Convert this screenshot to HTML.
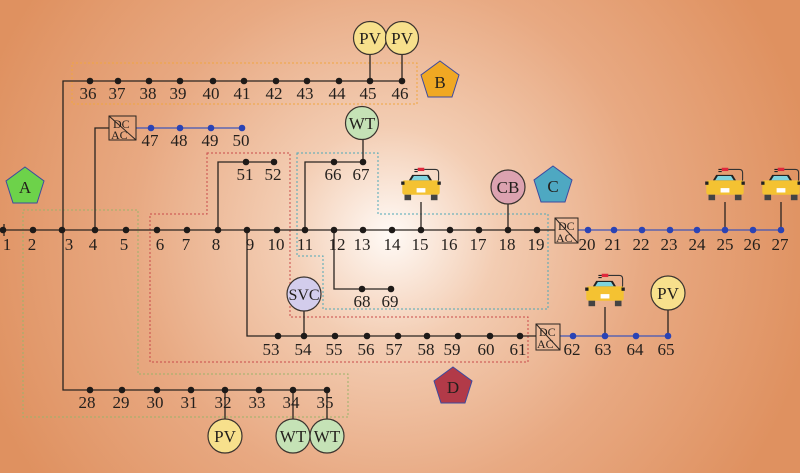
<!DOCTYPE html>
<html><head><meta charset="utf-8"><style>
html,body{margin:0;padding:0}
body{width:800px;height:473px;overflow:hidden}
svg{display:block}
svg text{font-family:"Liberation Serif",serif;font-size:17px;fill:#231f1c}
</style></head><body>
<svg width="800" height="473" viewBox="0 0 800 473" xmlns="http://www.w3.org/2000/svg">
<defs>
<radialGradient id="bg" cx="390" cy="235" r="430" gradientUnits="userSpaceOnUse">
<stop offset="0" stop-color="#fffaf6"/><stop offset="0.25" stop-color="#f3cdb3"/><stop offset="0.6" stop-color="#e8a982"/><stop offset="1" stop-color="#df9160"/></radialGradient>
<symbol id="car" viewBox="0 0 40 40" width="44" height="44">
<path d="M17 4h6" stroke="#e0283c" stroke-width="3"/><path d="M14 4h3M14 6h3" stroke="#222" stroke-width="1"/>
<path d="M23 4h10q3 0 3 3v6q0 2-2 3" fill="none" stroke="#333" stroke-width="1"/>
<path d="M9 14l3-5h15l3 5z" fill="#222"/><path d="M11 14l2.5-4h12l2.5 4z" fill="#7fd3de"/>
<rect x="3" y="14" width="34" height="13" rx="2" fill="#f4c232"/>
<rect x="2" y="15" width="3" height="3" fill="#222"/><rect x="35" y="15" width="3" height="3" fill="#222"/>
<rect x="16" y="21" width="8" height="4" fill="#fff"/>
<rect x="5" y="27" width="6" height="5" fill="#444"/><rect x="29" y="27" width="6" height="5" fill="#444"/>
</symbol>
</defs>
<rect width="800" height="473" fill="url(#bg)"/>

<g fill="none" stroke-width="1" stroke-dasharray="2,2">
<polygon points="23,210 138,210 138,374 348,374 348,417 23,417" stroke="#9bb36a"/>
<rect x="72" y="63" width="345" height="41" stroke="#f0a640"/>
<polygon points="207,153 290,153 290,317 528,317 528,362 150,362 150,214 207,214" stroke="#c94a4a"/>
<polygon points="297,153 378,153 378,214 548,214 548,309 323,309 323,256 297,256" stroke="#4fa8b8"/>
</g>

<g stroke="#2a2420" stroke-width="1.3" fill="none">
<line x1="0" y1="230" x2="555" y2="230"/><line x1="4" y1="224" x2="4" y2="236"/>
<polyline points="63,230 63,81 402,81"/><polyline points="63,230 63,390 327,390"/>
<polyline points="95,230 95,128 109,128"/>
<polyline points="218,230 218,162 274,162"/>
<polyline points="305,230 305,162 363,162 363,140"/>
<polyline points="334,230 334,289 391,289"/>
<polyline points="247,230 247,336 536,336"/>
<line x1="370" y1="81" x2="370" y2="54"/><line x1="402" y1="81" x2="402" y2="54"/>
<line x1="421" y1="230" x2="421" y2="202"/><line x1="508" y1="230" x2="508" y2="204"/>
<line x1="725" y1="230" x2="725" y2="202"/><line x1="781" y1="230" x2="781" y2="202"/>
<line x1="605" y1="336" x2="605" y2="307"/><line x1="668" y1="336" x2="668" y2="310"/>
<line x1="304" y1="336" x2="304" y2="311"/>
<line x1="225" y1="390" x2="225" y2="419"/><line x1="293" y1="390" x2="293" y2="419"/><line x1="327" y1="390" x2="327" y2="419"/>
</g>
<g stroke="#3f55b8" stroke-width="1.3">
<line x1="578" y1="230" x2="781" y2="230"/><line x1="136" y1="128" x2="242" y2="128"/><line x1="560" y1="336" x2="668" y2="336"/>
</g>

<g stroke="#2a2420" stroke-width="1" fill="none">
<rect x="555" y="218" width="23" height="25"/><line x1="555" y1="218" x2="578" y2="243"/>
<rect x="109" y="116" width="27" height="24"/><line x1="109" y1="116" x2="136" y2="140"/>
<rect x="536" y="324" width="24" height="26"/><line x1="536" y1="324" x2="560" y2="350"/>
</g>
<g>
<text x="558" y="230" style="font-size:12px">DC</text><text x="556" y="242" style="font-size:12px">AC</text>
<text x="113" y="128" style="font-size:12px">DC</text><text x="111" y="139" style="font-size:12px">AC</text>
<text x="539" y="336" style="font-size:12px">DC</text><text x="537" y="348" style="font-size:12px">AC</text>
</g>

<g fill="#1e1a18">
<circle cx="3" cy="230" r="3.3"/><circle cx="33" cy="230" r="3.3"/><circle cx="62" cy="230" r="3.3"/><circle cx="95" cy="230" r="3.3"/><circle cx="126" cy="230" r="3.3"/><circle cx="157" cy="230" r="3.3"/><circle cx="187" cy="230" r="3.3"/><circle cx="218" cy="230" r="3.3"/><circle cx="247" cy="230" r="3.3"/><circle cx="277" cy="230" r="3.3"/><circle cx="305" cy="230" r="3.3"/><circle cx="334" cy="230" r="3.3"/><circle cx="363" cy="230" r="3.3"/><circle cx="392" cy="230" r="3.3"/><circle cx="421" cy="230" r="3.3"/><circle cx="450" cy="230" r="3.3"/><circle cx="479" cy="230" r="3.3"/><circle cx="508" cy="230" r="3.3"/><circle cx="537" cy="230" r="3.3"/>
<circle cx="90" cy="81" r="3.3"/><circle cx="118" cy="81" r="3.3"/><circle cx="149" cy="81" r="3.3"/><circle cx="180" cy="81" r="3.3"/><circle cx="213" cy="81" r="3.3"/><circle cx="244" cy="81" r="3.3"/><circle cx="276" cy="81" r="3.3"/><circle cx="307" cy="81" r="3.3"/><circle cx="339" cy="81" r="3.3"/><circle cx="370" cy="81" r="3.3"/><circle cx="402" cy="81" r="3.3"/>
<circle cx="246" cy="162" r="3.3"/><circle cx="274" cy="162" r="3.3"/><circle cx="334" cy="162" r="3.3"/><circle cx="363" cy="162" r="3.3"/>
<circle cx="362" cy="289" r="3.3"/><circle cx="391" cy="289" r="3.3"/>
<circle cx="278" cy="336" r="3.3"/><circle cx="304" cy="336" r="3.3"/><circle cx="335" cy="336" r="3.3"/><circle cx="367" cy="336" r="3.3"/><circle cx="398" cy="336" r="3.3"/><circle cx="427" cy="336" r="3.3"/><circle cx="458" cy="336" r="3.3"/><circle cx="490" cy="336" r="3.3"/><circle cx="520" cy="336" r="3.3"/>
<circle cx="90" cy="390" r="3.3"/><circle cx="122" cy="390" r="3.3"/><circle cx="157" cy="390" r="3.3"/><circle cx="191" cy="390" r="3.3"/><circle cx="225" cy="390" r="3.3"/><circle cx="259" cy="390" r="3.3"/><circle cx="293" cy="390" r="3.3"/><circle cx="327" cy="390" r="3.3"/>
</g>
<g fill="#2a43b5">
<circle cx="588" cy="230" r="3.3"/><circle cx="614" cy="230" r="3.3"/><circle cx="642" cy="230" r="3.3"/><circle cx="670" cy="230" r="3.3"/><circle cx="697" cy="230" r="3.3"/><circle cx="725" cy="230" r="3.3"/><circle cx="753" cy="230" r="3.3"/><circle cx="781" cy="230" r="3.3"/>
<circle cx="151" cy="128" r="3.3"/><circle cx="180" cy="128" r="3.3"/><circle cx="211" cy="128" r="3.3"/><circle cx="242" cy="128" r="3.3"/>
<circle cx="573" cy="336" r="3.3"/><circle cx="605" cy="336" r="3.3"/><circle cx="636" cy="336" r="3.3"/><circle cx="668" cy="336" r="3.3"/>
</g>

<g text-anchor="middle">
<text x="7" y="250">1</text><text x="32" y="250">2</text><text x="69" y="250">3</text><text x="93" y="250">4</text><text x="124" y="250">5</text><text x="160" y="250">6</text><text x="186" y="250">7</text><text x="216" y="250">8</text><text x="250" y="250">9</text><text x="276" y="250">10</text><text x="305" y="250">11</text><text x="337" y="250">12</text><text x="362" y="250">13</text><text x="392" y="250">14</text><text x="420" y="250">15</text><text x="449" y="250">16</text><text x="478" y="250">17</text><text x="507" y="250">18</text><text x="536" y="250">19</text>
<text x="587" y="250">20</text><text x="613" y="250">21</text><text x="641" y="250">22</text><text x="669" y="250">23</text><text x="697" y="250">24</text><text x="725" y="250">25</text><text x="752" y="250">26</text><text x="780" y="250">27</text>
<text x="88" y="99">36</text><text x="117" y="99">37</text><text x="148" y="99">38</text><text x="178" y="99">39</text><text x="211" y="99">40</text><text x="242" y="99">41</text><text x="274" y="99">42</text><text x="305" y="99">43</text><text x="337" y="99">44</text><text x="368" y="99">45</text><text x="400" y="99">46</text>
<text x="150" y="146">47</text><text x="179" y="146">48</text><text x="210" y="146">49</text><text x="241" y="146">50</text>
<text x="245" y="180">51</text><text x="273" y="180">52</text><text x="333" y="180">66</text><text x="361" y="180">67</text>
<text x="362" y="307">68</text><text x="390" y="307">69</text>
<text x="271" y="355">53</text><text x="303" y="355">54</text><text x="334" y="355">55</text><text x="366" y="355">56</text><text x="394" y="355">57</text><text x="426" y="355">58</text><text x="452" y="355">59</text><text x="486" y="355">60</text><text x="518" y="355">61</text>
<text x="572" y="355">62</text><text x="603" y="355">63</text><text x="635" y="355">64</text><text x="666" y="355">65</text>
<text x="87" y="408">28</text><text x="121" y="408">29</text><text x="155" y="408">30</text><text x="189" y="408">31</text><text x="223" y="408">32</text><text x="257" y="408">33</text><text x="291" y="408">34</text><text x="325" y="408">35</text>
</g>

<g stroke="#3a332e" stroke-width="1.2">
<circle cx="370" cy="38" r="16.5" fill="#f7e08c"/><circle cx="402" cy="38" r="16.5" fill="#f7e08c"/>
<circle cx="362" cy="123" r="16.5" fill="#c5e2b6"/>
<circle cx="508" cy="187" r="17" fill="#dca2b0"/>
<circle cx="304" cy="294" r="17" fill="#d3cdec"/>
<circle cx="668" cy="293" r="17" fill="#f7e08c"/>
<circle cx="225" cy="436" r="17" fill="#f7e08c"/><circle cx="293" cy="436" r="17" fill="#c5e2b6"/><circle cx="327" cy="436" r="17" fill="#c5e2b6"/>
</g>
<g text-anchor="middle">
<text x="370" y="44">PV</text><text x="402" y="44">PV</text><text x="362" y="129">WT</text><text x="508" y="193">CB</text>
<text x="304" y="300" style="font-size:16px">SVC</text><text x="668" y="299">PV</text>
<text x="225" y="442">PV</text><text x="293" y="442">WT</text><text x="327" y="442">WT</text>
</g>

<g stroke="#3c4aa0" stroke-width="1">
<polygon points="25,167 44,181 37,203 13,203 6,181" fill="#6dd24a"/>
<polygon points="440,61 459,75 452,97 428,97 421,75" fill="#f0a823"/>
<polygon points="553,166 572,180 565,202 541,202 534,180" fill="#4ea8c2"/>
<polygon points="453,367 472,381 465,403 441,403 434,381" fill="#b23a48"/>
</g>
<g text-anchor="middle">
<text x="25" y="193">A</text><text x="440" y="88">B</text><text x="553" y="192">C</text><text x="453" y="393">D</text>
</g>

<use href="#car" x="399" y="165"/>
<use href="#car" x="703" y="165"/>
<use href="#car" x="759" y="165"/>
<use href="#car" x="583" y="271"/>
</svg>
</body></html>
